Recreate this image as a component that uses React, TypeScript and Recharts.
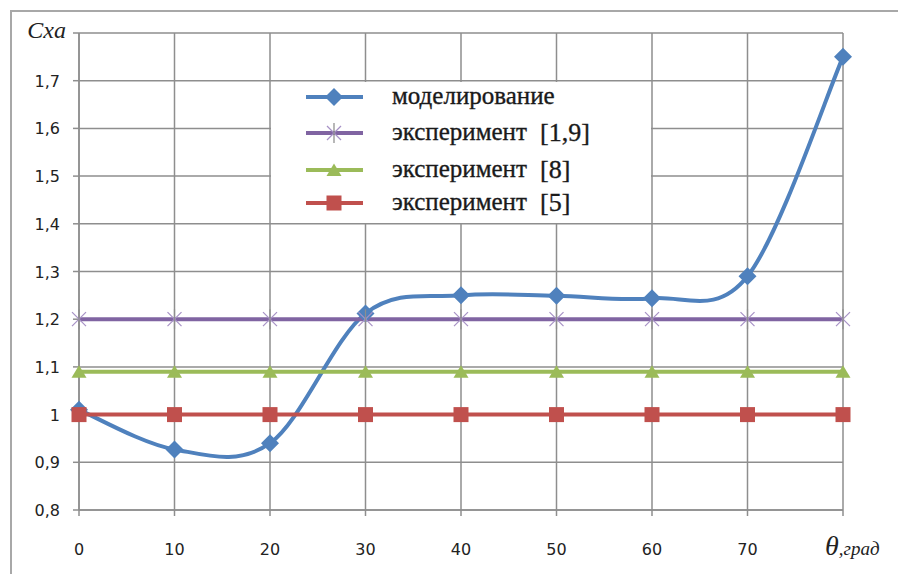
import { LineChart, Line, XAxis, YAxis, CartesianGrid, Legend } from 'recharts';

const angles = [0, 10, 20, 30, 40, 50, 60, 70, 80];
const modeling = [1.01, 0.927, 0.94, 1.212, 1.25, 1.249, 1.244, 1.29, 1.75];
const exp19 = [1.2, 1.2, 1.2, 1.2, 1.2, 1.2, 1.2, 1.2, 1.2];
const exp8 = [1.09, 1.09, 1.09, 1.09, 1.09, 1.09, 1.09, 1.09, 1.09];
const exp5 = [1, 1, 1, 1, 1, 1, 1, 1, 1];
const yTicks = [0.8, 0.9, 1, 1.1, 1.2, 1.3, 1.4, 1.5, 1.6, 1.7, 1.8];

const data = angles.map((a, i) => ({
  angle: a,
  modeling: modeling[i],
  exp19: exp19[i],
  exp8: exp8[i],
  exp5: exp5[i],
}));

const GRID = '#8e8e8e';
const TEXT = '#222';
const SERIF = "'Liberation Serif', 'DejaVu Serif', serif";
const SANS = "'DejaVu Sans', Verdana, sans-serif";

type Marker = 'diamond' | 'star' | 'triangle' | 'square';

const series: { key: string; label: string; ref: string; color: string; marker: Marker }[] = [
  { key: 'modeling', label: 'моделирование', ref: '', color: '#4f81bd', marker: 'diamond' },
  { key: 'exp19', label: 'эксперимент', ref: '[1,9]', color: '#8064a2', marker: 'star' },
  { key: 'exp8', label: 'эксперимент', ref: '[8]', color: '#9bbb59', marker: 'triangle' },
  { key: 'exp5', label: 'эксперимент', ref: '[5]', color: '#c0504d', marker: 'square' },
];

// spreadsheet-style smoothed line (Catmull-Rom tangents, bezier segments)
function smoothCurve(context: any) {
  let xs: number[] = [];
  let ys: number[] = [];
  return {
    areaStart() {},
    areaEnd() {},
    lineStart() {
      xs = [];
      ys = [];
    },
    point(x: number, y: number) {
      xs.push(+x);
      ys.push(+y);
    },
    lineEnd() {
      const n = xs.length;
      if (!n) return;
      context.moveTo(xs[0], ys[0]);
      if (n === 2) {
        context.lineTo(xs[1], ys[1]);
        return;
      }
      const tan = (arr: number[], i: number) =>
        i === 0 ? (arr[1] - arr[0]) / 2 : i === n - 1 ? (arr[n - 1] - arr[n - 2]) / 2 : (arr[i + 1] - arr[i - 1]) / 2;
      for (let i = 0; i < n - 1; i++) {
        context.bezierCurveTo(
          xs[i] + tan(xs, i) / 3,
          ys[i] + tan(ys, i) / 3,
          xs[i + 1] - tan(xs, i + 1) / 3,
          ys[i + 1] - tan(ys, i + 1) / 3,
          xs[i + 1],
          ys[i + 1]
        );
      }
    },
  };
}

function drawMarker(kind: Marker, cx: number, cy: number, color: string, legend = false) {
  if (kind === 'diamond') {
    return <path d={`M${cx},${cy - 9} L${cx + 9},${cy} L${cx},${cy + 9} L${cx - 9},${cy} Z`} fill={color} />;
  }
  if (kind === 'square') {
    return <rect x={cx - 7.5} y={cy - 7.5} width={15} height={15} fill={color} />;
  }
  if (kind === 'triangle') {
    return <path d={`M${cx},${cy - 6.5} L${cx + 7.5},${cy + 6} L${cx - 7.5},${cy + 6} Z`} fill={color} />;
  }
  // star: x plus vertical stroke
  return (
    <g stroke="#a792c6" strokeWidth={1.2}>
      <line x1={cx - 7} y1={cy - 7} x2={cx + 7} y2={cy + 7} />
      <line x1={cx - 7} y1={cy + 7} x2={cx + 7} y2={cy - 7} />
      <line x1={cx} y1={cy - 10} x2={cx} y2={cy + 10} stroke={legend ? '#888' : GRID} />
    </g>
  );
}

function makeDot(kind: Marker, color: string) {
  return (props: any) => {
    const { cx, cy, index } = props;
    if (cx == null || cy == null) return <g key={index} />;
    return <g key={index}>{drawMarker(kind, cx, cy, color)}</g>;
  };
}

function fmt(v: number) {
  return String(Math.round(v * 10) / 10).replace('.', ',');
}

function YTick({ x, y, payload }: any) {
  const v = payload.value as number;
  if (Math.abs(v - 1.8) < 1e-6) {
    return (
      <text x={x - 5} y={y + 5} textAnchor="end" fontFamily={SERIF} fontStyle="italic" fontSize={24} fill={TEXT}>
        Cxa
      </text>
    );
  }
  return (
    <text x={x - 11} y={y + 6} textAnchor="end" fontFamily={SANS} fontSize={16} fill={TEXT}>
      {fmt(v)}
    </text>
  );
}

function XTick({ x, y, payload }: any) {
  const v = payload.value as number;
  if (v === 80) {
    return (
      <text x={x - 18} y={y + 37} textAnchor="start" fontFamily={SERIF} fontStyle="italic" fill={TEXT}>
        <tspan fontSize={28}>θ</tspan>
        <tspan fontSize={19}>,град</tspan>
      </text>
    );
  }
  return (
    <text x={x} y={y + 37} textAnchor="middle" fontFamily={SANS} fontSize={16} fill={TEXT}>
      {v}
    </text>
  );
}

const rowY = [15, 51, 88, 121];

function LegendBox() {
  return (
    <svg width={380} height={141} style={{ display: 'block' }}>
      <rect x={0} y={0} width={380} height={141} fill="#fff" />
      {series.map((s, i) => {
        const cy = rowY[i];
        return (
          <g key={s.key}>
            <line x1={35} y1={cy} x2={92} y2={cy} stroke={s.color} strokeWidth={4} />
            {drawMarker(s.marker, 63, cy, s.color, true)}
            <text
              x={121}
              y={cy + 7}
              fontFamily={SERIF}
              fontSize={25}
              fill="#1a1a1a"
              stroke="#1a1a1a"
              strokeWidth={0.35}
            >
              {s.label}
            </text>
            {s.ref && (
              <text
                x={269}
                y={cy + 8}
                fontFamily={SERIF}
                fontSize={26}
                fill="#1a1a1a"
                stroke="#1a1a1a"
                strokeWidth={0.35}
              >
                {s.ref}
              </text>
            )}
          </g>
        );
      })}
    </svg>
  );
}

export default function App() {
  return (
    <div style={{ position: 'relative', width: 898, height: 566, background: '#fff' }}>
      <div
        style={{
          position: 'absolute',
          left: 2,
          top: 2,
          right: -20,
          bottom: -20,
          borderLeft: `2px solid #a8a8a8`,
          borderTop: `2px solid #a8a8a8`,
        }}
      />
      <LineChart width={898} height={566} data={data} margin={{ top: 25, right: 63, bottom: 34, left: 11 }}>
        <CartesianGrid stroke={GRID} strokeWidth={1.5} />
        <XAxis
          dataKey="angle"
          type="number"
          domain={[0, 80]}
          ticks={angles}
          height={30}
          tickSize={6}
          axisLine={{ stroke: GRID, strokeWidth: 1.5 }}
          tickLine={{ stroke: GRID, strokeWidth: 1.5 }}
          tick={<XTick />}
        />
        <YAxis
          type="number"
          domain={[0.8, 1.8]}
          ticks={yTicks}
          width={60}
          tickSize={6}
          axisLine={{ stroke: GRID, strokeWidth: 1.5 }}
          tickLine={{ stroke: GRID, strokeWidth: 1.5 }}
          tick={<YTick />}
        />
        <Legend
          layout="vertical"
          align="center"
          verticalAlign="middle"
          wrapperStyle={{ left: 263, top: 74, width: 380, height: 141 }}
          content={() => <LegendBox />}
        />
        {series.map((s) => (
          <Line
            key={s.key}
            dataKey={s.key}
            name={s.label}
            type={s.key === 'modeling' ? (smoothCurve as any) : 'linear'}
            stroke={s.color}
            strokeWidth={4}
            dot={makeDot(s.marker, s.color)}
            activeDot={false}
            isAnimationActive={false}
          />
        ))}
      </LineChart>
    </div>
  );
}
